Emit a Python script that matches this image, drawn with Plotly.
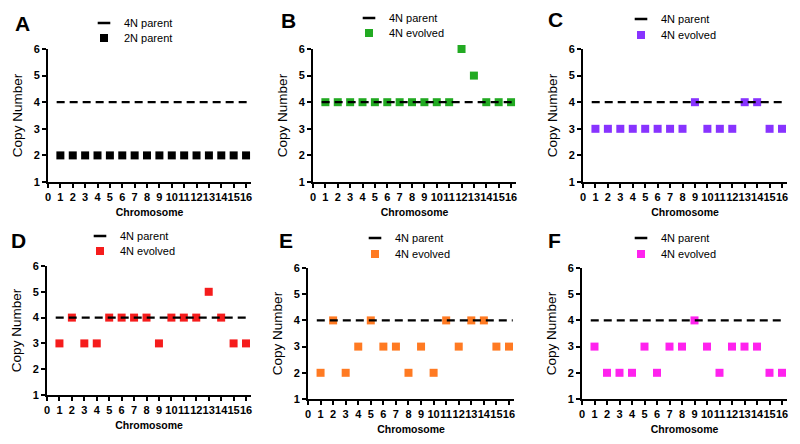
import plotly.graph_objects as go

# ---------------- data ----------------
chromosomes = list(range(1, 17))
parent_copy_number = 4  # 4N parent reference

panel_labels = ["A", "B", "C", "D", "E", "F"]
series_names = ["2N parent", "4N evolved", "4N evolved", "4N evolved", "4N evolved", "4N evolved"]
parent_name = "4N parent"

copy_A = [2, 2, 2, 2, 2, 2, 2, 2, 2, 2, 2, 2, 2, 2, 2, 2]
copy_B = [4, 4, 4, 4, 4, 4, 4, 4, 4, 4, 4, 6, 5, 4, 4, 4]
copy_C = [3, 3, 3, 3, 3, 3, 3, 3, 4, 3, 3, 3, 4, 4, 3, 3]
copy_D = [3, 4, 3, 3, 4, 4, 4, 4, 3, 4, 4, 4, 5, 4, 3, 3]
copy_E = [2, 4, 2, 3, 4, 3, 3, 2, 3, 2, 4, 3, 4, 4, 3, 3]
copy_F = [3, 2, 2, 2, 3, 2, 3, 3, 4, 3, 2, 3, 3, 3, 2, 2]
panel_values = [copy_A, copy_B, copy_C, copy_D, copy_E, copy_F]

x_ticks = list(range(0, 17))
y_ticks = [1, 2, 3, 4, 5, 6]

# ---------------- styling ----------------
colors = ["#000000", "#22aa22", "#8833ff", "#f51c1c", "#ff7a22", "#ff22ee"]
W, H = 800, 444
FONT = "Liberation Sans, Arial, Helvetica, sans-serif"

# plot-area pixel boxes (left, right, top, bottom)
boxes = [
    (48, 251, 49, 182),
    (313, 516, 49, 182),
    (583, 787, 49, 182),
    (47, 251, 266, 395),
    (308, 514, 268, 399),
    (582, 787, 268, 399),
]
letter_pos = [(22, 23), (288, 21), (555, 19), (18, 240), (286, 240), (554, 240)]
legend_text_x = [122, 387, 659, 118, 393, 659]
legend_rows = [(23, 38), (18, 33), (19, 35), (236, 251), (238, 254), (238, 254)]

line_pad = 0.3
fig = go.Figure()
layout = dict(
    width=W, height=H,
    margin=dict(l=0, r=0, t=0, b=0),
    paper_bgcolor="white", plot_bgcolor="white",
    font=dict(family=FONT, color="black"),
    annotations=[],
)

for i in range(6):
    n = i + 1
    xa = "x" if n == 1 else f"x{n}"
    ya = "y" if n == 1 else f"y{n}"
    leg_parent = "legend" if i == 0 else f"legend{2 * i + 1}"
    leg_data = f"legend{2 * i + 2}"

    # data squares
    fig.add_trace(go.Scatter(
        x=chromosomes, y=panel_values[i], mode="markers",
        marker=dict(symbol="square", size=8, color=colors[i]),
        name=series_names[i], xaxis=xa, yaxis=ya, cliponaxis=False,
        legend=leg_data, showlegend=True,
    ))
    # 4N parent dashed reference line
    fig.add_trace(go.Scatter(
        x=[chromosomes[0] - line_pad, chromosomes[-1] + line_pad],
        y=[parent_copy_number, parent_copy_number], mode="lines",
        line=dict(color="black", width=2.2, dash="8px,5px"),
        xaxis=xa, yaxis=ya, showlegend=False, hoverinfo="skip",
    ))
    # legend entry for parent (short dash)
    fig.add_trace(go.Scatter(
        x=[None], y=[None], mode="markers",
        marker=dict(symbol="line-ew", size=9, line=dict(color="black", width=2.5)),
        name=parent_name, xaxis=xa, yaxis=ya, legend=leg_parent, showlegend=True,
    ))

    l, r, t, b = boxes[i]
    xkey = "xaxis" if n == 1 else f"xaxis{n}"
    ykey = "yaxis" if n == 1 else f"yaxis{n}"
    layout[xkey] = dict(
        domain=[l / W, r / W], anchor=ya, range=[0, 16.4], automargin=False,
        tickmode="array", tickvals=x_ticks, ticktext=[str(v) for v in x_ticks],
        tickangle=0,
        showline=True, linecolor="black", linewidth=2,
        ticks="outside", ticklen=4, tickwidth=1.5, tickcolor="black",
        showgrid=False, zeroline=False,
        tickfont=dict(family=FONT, size=11, weight="bold", color="black"),
        title=dict(text="Chromosome", font=dict(family=FONT, size=10.5, weight="bold"), standoff=6),
    )
    layout[ykey] = dict(
        domain=[1 - b / H, 1 - t / H], anchor=xa, range=[1, 6], automargin=False,
        tickmode="array", tickvals=y_ticks,
        showline=True, linecolor="black", linewidth=2,
        ticks="outside", ticklen=4, tickwidth=1.5, tickcolor="black",
        showgrid=False, zeroline=False,
        tickfont=dict(family=FONT, size=11, weight="bold", color="black"),
        title=dict(text="Copy Number", font=dict(family=FONT, size=13.5), standoff=8),
    )
    r1, r2 = legend_rows[i]
    lx = (legend_text_x[i] - 38) / W
    layout[leg_parent] = dict(
        x=lx, y=1 - r1 / H, xanchor="left", yanchor="middle",
        font=dict(family=FONT, size=11), bgcolor="rgba(0,0,0,0)", itemwidth=30,
    )
    layout[leg_data] = dict(
        x=lx, y=1 - r2 / H, xanchor="left", yanchor="middle",
        font=dict(family=FONT, size=11), bgcolor="rgba(0,0,0,0)", itemwidth=30,
    )
    px, py = letter_pos[i]
    layout["annotations"].append(dict(
        text=panel_labels[i], x=px / W, y=1 - py / H, xref="paper", yref="paper",
        xanchor="center", yanchor="middle", showarrow=False,
        font=dict(family=FONT, size=21, weight="bold", color="black"),
    ))

fig.update_layout(**layout)
fig.write_html(
    "out.html",
    config={"displayModeBar": False},
    post_script="document.body.style.margin='0';document.body.style.padding='0';",
)
